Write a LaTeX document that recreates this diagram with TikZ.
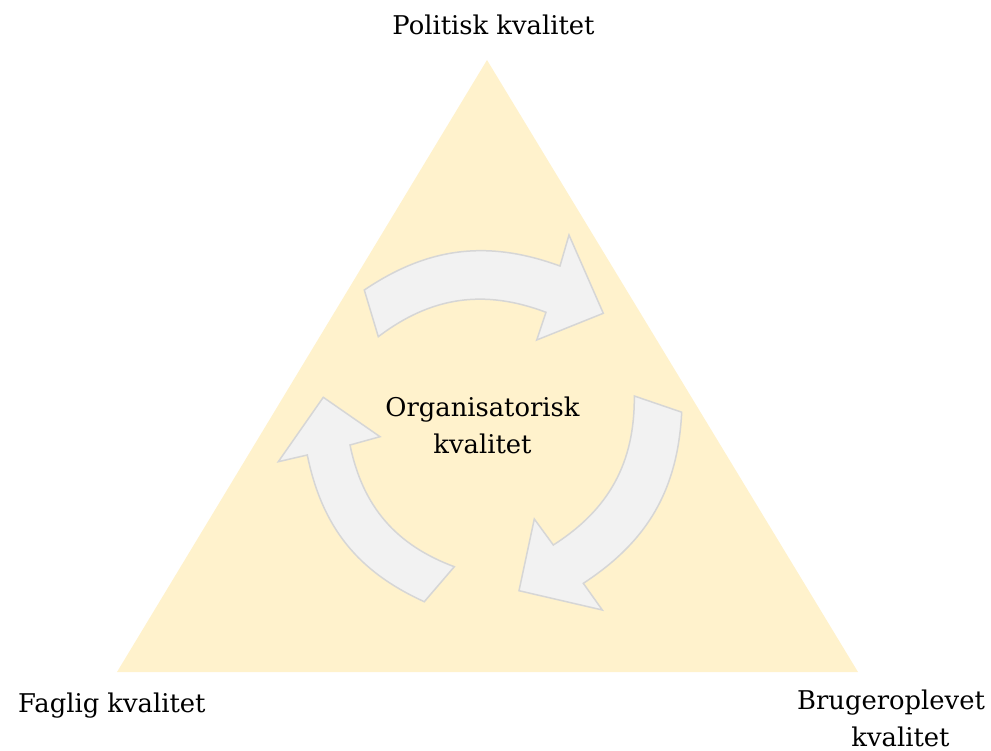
\documentclass[tikz,border=0pt]{standalone}
\usepackage{fontspec}
\setmainfont{DejaVu Serif}
\definecolor{trifill}{HTML}{FFF2CC}
\definecolor{arrfill}{HTML}{F2F2F2}
\definecolor{arrline}{HTML}{D6D6D6}
\begin{document}
\begin{tikzpicture}[x=1pt,y=-1pt,
  lbl/.style={inner sep=0pt, font=\fontsize{25.8}{31}\selectfont, text=black},
  cyc/.style={fill=arrfill, draw=arrline, line width=1.5pt, line join=miter},
  ob/.style={bend left=27}, ib/.style={bend right=29}]
\useasboundingbox (0,0) rectangle (991,751);
\fill[trifill] (487,60) -- (858,672) -- (117,672) -- cycle;
% top arrow
\draw[cyc] (364.3,290) to[ob] (560,266) -- (569,235) -- (603.3,313.3) -- (536.7,340) -- (546,312.3) to[ib] (378.3,336.7) -- cycle;
% right arrow
\draw[cyc] (681.7,412.2) to[ob] (583.3,583.3) -- (602.3,610) -- (519,590.7) -- (534.3,519) -- (553.3,545) to[ib] (634.3,396) -- cycle;
% left arrow
\draw[cyc] (424.3,601.7) to[ob] (307.3,455) -- (278.3,461.7) -- (323.3,397.3) -- (380,436.7) -- (350,445) to[ib] (454.3,566.7) -- cycle;
\node[lbl, anchor=base] (pol) at (493.5,35) {Politisk kvalitet};
\node[lbl, anchor=base west] (fag) at (18,712) {Faglig kvalitet};
\node[lbl, anchor=base] (bru1) at (891,709) {Brugeroplevet};
\node[lbl, anchor=base] (bru2) at (900.5,746) {kvalitet};
\node[lbl, anchor=base] (org1) at (482.5,416.7) {Organisatorisk};
\node[lbl, anchor=base] (org2) at (482.5,453.3) {kvalitet};
\end{tikzpicture}
\end{document}
